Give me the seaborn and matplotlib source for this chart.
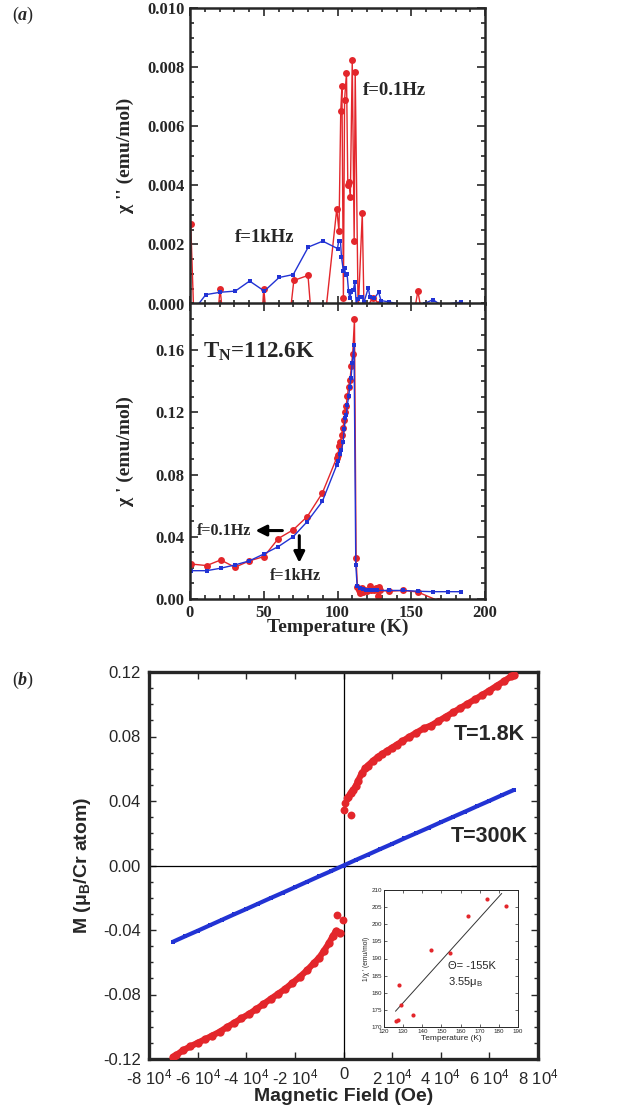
import numpy as np
import pandas as pd
import matplotlib
matplotlib.use('Agg')
import matplotlib.pyplot as plt
import seaborn as sns
from matplotlib.ticker import MultipleLocator, FormatStrFormatter, FixedLocator, FixedFormatter

# ---------------- data: panel (a), chi'' (emu/mol) ----------------
T_chi2_01Hz = [0.5, 2.5, 19, 20.4, 22, 49, 50, 51.5, 68, 70.4, 80, 82, 92, 99.5, 101, 102.2,
               103, 104, 104.8, 106.1, 107, 107.8, 108.7, 110, 111.3, 112, 114, 116.8, 118,
               124, 128, 130, 152, 154.5, 157]
chi2_01Hz = [0.0027, -0.0003, -0.0003, 0.0005, -0.0003, -0.0003, 0.0005, -0.0003, -0.0003,
             0.00078, 0.00095, -0.0003, -0.0003, 0.0032, 0.00245, 0.0065, 0.00735, 0.0002,
             0.0069, 0.0078, 0.0040, 0.0041, 0.0036, 0.00825, 0.0021, 0.00785, -0.0003,
             0.00305, -0.0003, 0.0002, 0.0000, -0.0003, -0.0003, 0.00042, -0.0003]

T_chi2_1kHz = [4.5, 10.7, 20.4, 30.7, 40.4, 50.4, 60.4, 70, 80.2, 90, 100, 100.8, 102, 102.7,
               104, 104.8, 105.5, 106.5, 107.5, 108.4, 109.3, 110.7, 111.8, 112.7, 113.6,
               115.4, 116.5, 118, 120.9, 122, 124.9, 127.9, 129.5, 135.2, 145, 155, 159,
               164.7, 170, 184]
chi2_1kHz = [-0.0001, 0.0003, 0.00038, 0.00042, 0.00076, 0.00042, 0.00088, 0.00098, 0.00191,
             0.00211, 0.00186, 0.00211, 0.00211, 0.00157, 0.0011, 0.0012, 0.00097, 0.0010,
             0.00041, 0.00017, 0.0004, 0.00045, 0.00073, -0.00005, 0.00015, 0.00022, 0.00022,
             0.00005, 0.00053, 0.00022, 0.00017, 0.00038, 0.0001, 0.00005, -0.00005, -0.00005,
             0.0, 0.00013, -0.00005, 0.00005]

# ---------------- data: panel (a), chi' (emu/mol) ----------------
T_chi1_01Hz = [0.5, 11.3, 20.8, 30.5, 40.2, 50.2, 59.9, 70, 79.5, 89.7, 99.4, 100.2, 101.2, 102,
               102.8, 103.7, 104.6, 105.2, 105.8, 106.7, 107.5, 108.5, 109.4, 110.3, 111.5,
               112.6, 113.5, 114.5, 115.5, 116.5, 117.5, 118.5, 120, 122, 123, 124.5, 126,
               127.2, 128, 129, 135, 144.6, 154.4, 168]
chi1_01Hz = [0.0225, 0.0215, 0.0251, 0.0204, 0.0245, 0.0273, 0.0389, 0.0445, 0.0530, 0.0681,
             0.0906, 0.0925, 0.0981, 0.1010, 0.1057, 0.1100, 0.1153, 0.1200, 0.1239, 0.1304,
             0.1364, 0.1411, 0.1497, 0.1577, 0.1798, 0.0262, 0.0079, 0.0060, 0.0037, 0.0070,
             0.0045, 0.0060, 0.0050, 0.0084, 0.0055, 0.0060, 0.0070, 0.0020, 0.0075, 0.0055,
             0.0050, 0.0055, 0.0045, -0.0010]

T_chi1_1kHz = [0.5, 11.3, 20.8, 30.5, 40.2, 50.2, 59.9, 70, 79.5, 89.7, 99.4, 100.5, 101.6,
               102.7, 103.8, 104.5, 105.4, 106, 106.7, 107.6, 108.3, 109.2, 110, 111.2, 112.4,
               113.3, 115, 117, 119.5, 122, 124.5, 127, 135, 144.6, 154.4, 164.5, 174.7, 183.7]
chi1_1kHz = [0.0182, 0.0182, 0.0198, 0.0219, 0.0245, 0.0290, 0.0337, 0.0401, 0.0498, 0.0627,
             0.0859, 0.0885, 0.0930, 0.0960, 0.1010, 0.1090, 0.1164, 0.1185, 0.1250, 0.1304,
             0.1364, 0.1420, 0.1520, 0.1630, 0.0220, 0.0085, 0.0070, 0.0065, 0.0055, 0.0060,
             0.0055, 0.0055, 0.0055, 0.0055, 0.0050, 0.0047, 0.0047, 0.0047]

# ---------------- data: panel (b), M(H), H in units of 1e4 Oe ----------------
H_18K = [-7.0, -6.9, -6.6, -6.3, -6.0, -5.7, -5.4, -5.1, -4.8, -4.5, -4.2, -3.9, -3.6, -3.3,
         -3.0, -2.7, -2.4, -2.1, -1.8, -1.5, -1.2, -1.0, -0.8, -0.6, -0.45, -0.3, -0.14,
         0.2, 0.3, 0.4, 0.5, 0.6, 0.75, 0.9, 1.0, 1.2, 1.4, 1.6, 1.8, 2.0, 2.2, 2.4, 2.7,
         3.0, 3.3, 3.6, 3.9, 4.2, 4.5, 4.8, 5.1, 5.4, 5.7, 6.0, 6.3, 6.6, 6.9, 7.0]
M_18K = [-0.1186, -0.1178, -0.1146, -0.1122, -0.1100, -0.1078, -0.1055, -0.1032, -0.1003,
         -0.0976, -0.0948, -0.0922, -0.0892, -0.0860, -0.0828, -0.0797, -0.0765, -0.0728,
         -0.0691, -0.0650, -0.0602, -0.0572, -0.0528, -0.0482, -0.0440, -0.0405, -0.0420,
         0.0427, 0.0450, 0.0470, 0.0490, 0.0525, 0.0572, 0.0602, 0.0620, 0.0647, 0.0672,
         0.0692, 0.0712, 0.0731, 0.0750, 0.0769, 0.0797, 0.0824, 0.0850, 0.0868, 0.0895,
         0.0922, 0.0949, 0.0976, 0.1003, 0.1030, 0.1057, 0.1085, 0.1114, 0.1143, 0.1173,
         0.1181]
H_18K_near0 = [-0.28, -0.01, 0.0, 0.06, 0.13, 0.31]
M_18K_near0 = [-0.0310, -0.0335, 0.0344, 0.0387, 0.0420, 0.0313]

H_300K = [-7.0, -6.5, -6.0, -5.5, -5.0, -4.5, -4.0, -3.5, -3.0, -2.5, -2.0, -1.5, -1.0, -0.5,
          0.0, 0.5, 1.0, 1.5, 2.0, 2.5, 3.0, 3.5, 4.0, 4.5, 5.0, 5.5, 6.0, 6.5, 7.0]
M_300K = [-0.0472, -0.0438, -0.0405, -0.0371, -0.0337, -0.0303, -0.0270, -0.0236, -0.0202,
          -0.0169, -0.0135, -0.0101, -0.0067, -0.0034, 0.0, 0.0034, 0.0067, 0.0101, 0.0134,
          0.0168, 0.0201, 0.0234, 0.0268, 0.0301, 0.0334, 0.0368, 0.0401, 0.0435, 0.0468]

H_tick_labels = ['-8 10$^{4}$', '-6 10$^{4}$', '-4 10$^{4}$', '-2 10$^{4}$', '0',
                 '2 10$^{4}$', '4 10$^{4}$', '6 10$^{4}$', '8 10$^{4}$']

# inset: 1/chi' vs T
T_inv = [126.1, 127.1, 128.0, 129.0, 134.9, 144.8, 154.4, 163.9, 173.8, 183.5]
inv_chi = [171.8, 172.0, 182.3, 176.4, 173.6, 192.4, 191.7, 202.3, 207.5, 205.2]
T_fit = [126.0, 181.5]
inv_fit = [174.6, 209.0]

# ---------------- style ----------------
sns.set_theme(style='ticks')
plt.rcParams['font.family'] = ['Liberation Serif', 'DejaVu Serif']
plt.rcParams['font.weight'] = 'bold'
plt.rcParams['axes.unicode_minus'] = False
plt.rcParams['mathtext.fontset'] = 'custom'
plt.rcParams['mathtext.it'] = 'Liberation Serif:italic'
plt.rcParams['mathtext.default'] = 'regular'

RED = '#e3262b'
BLUE = '#2233d4'
SERIF = 'Liberation Serif'
SANS = 'Liberation Sans'

W, H = 640, 1110
fig = plt.figure(figsize=(6.4, 11.1), dpi=100)


def rect(l, t, r, b):
    return [l / W, 1 - b / H, (r - l) / W, (b - t) / H]


ax1 = fig.add_axes(rect(190, 8, 485, 303.5))
ax2 = fig.add_axes(rect(190, 303.5, 485, 599), sharex=ax1)
axb = fig.add_axes(rect(149, 672, 538, 1059))
axi = fig.add_axes(rect(384, 890, 518, 1027))

# ---- panel (a) top ----
df = pd.DataFrame({'T': T_chi2_01Hz, 'v': chi2_01Hz})
sns.lineplot(data=df, x='T', y='v', ax=ax1, sort=False, estimator=None, color=RED, lw=1.0,
             marker='o', markersize=5, markeredgewidth=0)
df = pd.DataFrame({'T': T_chi2_1kHz, 'v': chi2_1kHz})
sns.lineplot(data=df, x='T', y='v', ax=ax1, sort=False, estimator=None, color=BLUE, lw=1.0,
             marker='s', markersize=3.2, markeredgewidth=0)
ax1.set_xlim(0, 200)
ax1.set_ylim(0, 0.010)
ax1.yaxis.set_major_locator(MultipleLocator(0.002))
ax1.yaxis.set_minor_locator(MultipleLocator(0.0005))
ax1.yaxis.set_major_formatter(FormatStrFormatter('%.3f'))
ax1.xaxis.set_major_locator(MultipleLocator(50))
ax1.xaxis.set_minor_locator(MultipleLocator(10))
ax1.tick_params(axis='x', labelbottom=False)
ax1.set_xlabel('')
ax1.set_ylabel("χ '' (emu/mol)", fontsize=14, fontweight='bold')
ax1.yaxis.set_label_coords(-0.19, 0.5)
ax1.text(117, 0.0072, 'f=0.1Hz', fontsize=13.5, fontweight='bold', va='center', ha='left')
ax1.text(30.5, 0.00223, 'f=1kHz', fontsize=13.5, fontweight='bold', va='center', ha='left')

# ---- panel (a) bottom ----
df = pd.DataFrame({'T': T_chi1_01Hz, 'v': chi1_01Hz})
sns.lineplot(data=df, x='T', y='v', ax=ax2, sort=False, estimator=None, color=RED, lw=1.0,
             marker='o', markersize=5, markeredgewidth=0)
df = pd.DataFrame({'T': T_chi1_1kHz, 'v': chi1_1kHz})
sns.lineplot(data=df, x='T', y='v', ax=ax2, sort=False, estimator=None, color=BLUE, lw=1.0,
             marker='s', markersize=3.2, markeredgewidth=0)
ax2.set_xlim(0, 200)
ax2.set_ylim(0, 0.19)
ax2.yaxis.set_major_locator(MultipleLocator(0.04))
ax2.yaxis.set_minor_locator(MultipleLocator(0.01))
ax2.yaxis.set_major_formatter(FormatStrFormatter('%.2f'))
ax2.set_xlabel('Temperature (K)', fontsize=14, fontweight='bold', va='top')
ax2.xaxis.set_label_coords(0.5, -0.068)
ax2.set_ylabel("χ ' (emu/mol)", fontsize=14, fontweight='bold')
ax2.yaxis.set_label_coords(-0.19, 0.5)
ax2.text(8.8, 0.1553, 'T$_{N}$=112.6K', fontsize=16.5, fontweight='bold', va='baseline',
         ha='left')
ax2.text(4.5, 0.044, 'f=0.1Hz', fontsize=11.5, fontweight='bold', va='center', ha='left')
ax2.annotate('', xy=(42.5, 0.044), xytext=(64.5, 0.044),
             arrowprops=dict(arrowstyle='-|>', color='black', lw=2.2, mutation_scale=16))
ax2.text(54.2, 0.0148, 'f=1kHz', fontsize=11.5, fontweight='bold', va='center', ha='left')
ax2.annotate('', xy=(74.1, 0.0215), xytext=(74.1, 0.0425),
             arrowprops=dict(arrowstyle='-|>', color='black', lw=2.2, mutation_scale=16))

for ax in (ax1, ax2):
    for s in ax.spines.values():
        s.set_linewidth(1.8)
        s.set_visible(True)
    ax.tick_params(which='both', direction='in', top=True, right=True, width=1.2,
                   labelsize=12, pad=4)
    ax.tick_params(which='major', length=6)
    ax.tick_params(which='minor', length=3)
    for lbl in ax.get_xticklabels() + ax.get_yticklabels():
        lbl.set_fontfamily(SERIF)
        lbl.set_fontweight('bold')

# ---- panel (b) ----
axb.axhline(0, color='black', lw=0.9, zorder=1)
axb.axvline(0, color='black', lw=0.9, zorder=1)
df = pd.DataFrame({'H': np.array(H_300K) * 1e4, 'M': M_300K})
sns.lineplot(data=df, x='H', y='M', ax=axb, sort=False, estimator=None, color=BLUE, lw=3.0,
             marker='s', markersize=3.5, markeredgewidth=0, zorder=3)
Hn = np.array(H_18K)
neg = Hn < 0
df = pd.DataFrame({'H': Hn[neg] * 1e4, 'M': np.array(M_18K)[neg]})
sns.lineplot(data=df, x='H', y='M', ax=axb, sort=False, estimator=None, color=RED, lw=4.5,
             marker='o', markersize=6, markeredgewidth=0, zorder=4)
df = pd.DataFrame({'H': Hn[~neg] * 1e4, 'M': np.array(M_18K)[~neg]})
sns.lineplot(data=df, x='H', y='M', ax=axb, sort=False, estimator=None, color=RED, lw=4.5,
             marker='o', markersize=6, markeredgewidth=0, zorder=4)
df = pd.DataFrame({'H': np.array(H_18K_near0) * 1e4, 'M': M_18K_near0})
sns.scatterplot(data=df, x='H', y='M', ax=axb, color=RED, s=32, linewidth=0, zorder=5)

axb.set_xlim(-8e4, 8e4)
axb.set_ylim(-0.12, 0.12)
axb.xaxis.set_major_locator(FixedLocator(np.arange(-8e4, 8.1e4, 2e4)))
axb.xaxis.set_major_formatter(FixedFormatter(H_tick_labels))
axb.yaxis.set_major_locator(MultipleLocator(0.04))
axb.yaxis.set_minor_locator(MultipleLocator(0.01))
axb.yaxis.set_major_formatter(FormatStrFormatter('%.2f'))
for s in axb.spines.values():
    s.set_linewidth(2.4)
    s.set_visible(True)
axb.tick_params(which='both', direction='in', top=True, right=True, width=1.0, labelsize=12)
axb.tick_params(which='major', length=5)
axb.tick_params(which='minor', length=3)
axb.tick_params(axis='x', pad=6)
axb.tick_params(axis='y', pad=6)
for lbl in axb.get_xticklabels() + axb.get_yticklabels():
    lbl.set_fontfamily(SANS)
    lbl.set_fontweight('normal')
axb.set_xlabel('Magnetic Field (Oe)', fontsize=14, fontweight='bold', fontfamily=SANS,
               va='top')
axb.xaxis.set_label_coords(0.5, -0.075)
axb.set_ylabel('M (μ$_{B}$/Cr atom)', fontsize=14, fontweight='bold', fontfamily=SANS)
axb.yaxis.set_label_coords(-0.145, 0.5)
axb.text(5.98e4, 0.0815, 'T=1.8K', fontsize=15.5, fontweight='bold', fontfamily=SANS,
         ha='center', va='center')
axb.text(5.98e4, 0.0179, 'T=300K', fontsize=15.5, fontweight='bold', fontfamily=SANS,
         ha='center', va='center')

# ---- inset ----
df = pd.DataFrame({'T': T_inv, 'v': inv_chi})
sns.scatterplot(data=df, x='T', y='v', ax=axi, color=RED, s=9, linewidth=0, zorder=3)
df = pd.DataFrame({'T': T_fit, 'v': inv_fit})
sns.lineplot(data=df, x='T', y='v', ax=axi, color='#333333', lw=0.7, sort=False,
             estimator=None)
axi.set_xlim(120, 190)
axi.set_ylim(170, 210)
axi.xaxis.set_major_locator(MultipleLocator(10))
axi.yaxis.set_major_locator(MultipleLocator(5))
for s in axi.spines.values():
    s.set_linewidth(0.7)
    s.set_visible(True)
axi.tick_params(which='both', direction='in', top=True, right=True, width=0.5, length=2.5,
                labelsize=4.5, pad=1.5)
for lbl in axi.get_xticklabels() + axi.get_yticklabels():
    lbl.set_fontfamily(SANS)
    lbl.set_fontweight('normal')
axi.set_xlabel('Temperature (K)', fontsize=6, fontfamily=SANS, fontweight='normal',
               labelpad=1)
axi.set_ylabel("1/χ ' (emu/mol)", fontsize=4.8, fontfamily=SANS, fontweight='normal',
               labelpad=1)
axi.text(153.5, 187.8, 'Θ= -155K', fontsize=8, fontfamily=SANS, fontweight='normal',
         ha='left', va='center')
axi.text(153.5, 183.0, '3.55μ$_{B}$', fontsize=8, fontfamily=SANS, fontweight='normal',
         ha='left', va='center')

# panel labels
fig.text(12 / W, 1 - 15 / H, '($\\mathit{a}$)', fontsize=13, fontweight='normal',
         fontfamily=SERIF, ha='left', va='center')
fig.text(12 / W, 1 - 680 / H, '($\\mathit{b}$)', fontsize=13, fontweight='normal',
         fontfamily=SERIF, ha='left', va='center')

fig.savefig('out.png', dpi=100)
